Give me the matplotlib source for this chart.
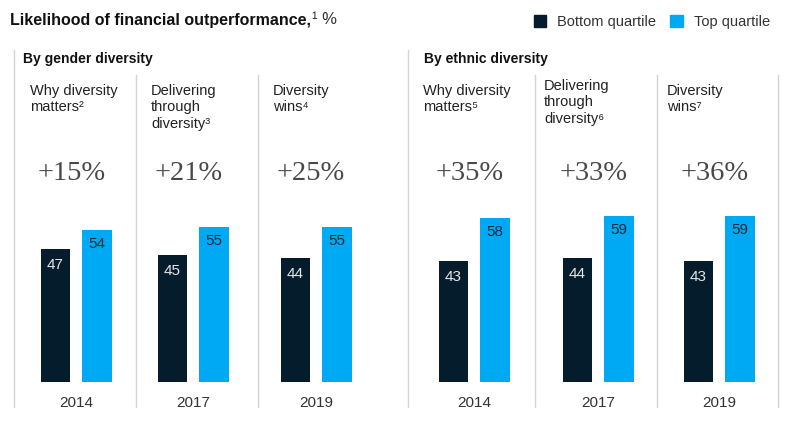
import matplotlib
matplotlib.use('Agg')
import matplotlib.pyplot as plt
from matplotlib.lines import Line2D
from matplotlib.patches import Patch

plt.rcParams['font.family'] = ['Liberation Sans', 'DejaVu Sans']

# data
years = ['2014', '2017', '2019']
gender_reports = ['Why diversity\nmatters²', 'Delivering\nthrough\ndiversity³', 'Diversity\nwins⁴']
ethnic_reports = ['Why diversity\nmatters⁵', 'Delivering\nthrough\ndiversity⁶', 'Diversity\nwins⁷']
gender_bottom = [47, 45, 44]
gender_top = [54, 55, 55]
gender_uplift = [15, 21, 25]
ethnic_bottom = [43, 44, 43]
ethnic_top = [58, 59, 59]
ethnic_uplift = [35, 33, 36]

DARK = '#051C2C'
BLUE = '#00A9F4'
GRID = '#d4d4d4'

W, H = 800, 430
fig = plt.figure(figsize=(W / 100, H / 100), dpi=100)


def fx(px):
    return px / W


def fy(py):
    return 1 - py / H


# layout in pixels
dark_centers = [55.5, 172.5, 295.5, 453.5, 577.5, 698.5]
title_x = [30, 151, 273, 423, 544, 667]
title_y = [84, 84, 84, 84, 79, 84]
unit = 41.5          # px between the two bars of a panel
base_y = 382         # baseline
top_y = 75
px_per_val = 2.82

bottoms = gender_bottom + ethnic_bottom
tops = gender_top + ethnic_top
uplifts = gender_uplift + ethnic_uplift
reports = gender_reports + ethnic_reports
panel_years = years + years

for i in range(6):
    left = dark_centers[i] - unit
    ax = fig.add_axes([fx(left), fy(base_y), 3 * unit / W, (base_y - top_y) / H])
    ax.set_xlim(-1, 2)
    ax.set_ylim(0, (base_y - top_y) / px_per_val)
    ax.axis('off')
    ax.bar([0, 1], [bottoms[i], tops[i]], width=0.7, color=[DARK, BLUE])
    ax.annotate(str(bottoms[i]), xy=(0, bottoms[i]), xytext=(0, -16),
                textcoords='offset pixels', ha='center', va='center',
                fontsize=11, color='#e6e6e6')
    ax.annotate(str(tops[i]), xy=(1, tops[i]), xytext=(0, -14),
                textcoords='offset pixels', ha='center', va='center',
                fontsize=11, color='#1a2a3a')
    ax.annotate(panel_years[i], xy=(0.5, 0), xytext=(0, -21),
                textcoords='offset pixels', ha='center', va='center',
                fontsize=11, color='#333333', annotation_clip=False)
    ax.annotate(f'+{uplifts[i]}%', xy=(0.5, 0), xytext=(-5, 208),
                textcoords='offset pixels', ha='center', va='center',
                fontsize=20.5, color='#484848', family='Liberation Serif',
                annotation_clip=False)
    fig.text(fx(title_x[i]), fy(title_y[i]), reports[i], ha='left', va='top',
             fontsize=10.5, color='#222222', linespacing=1.22)

# separators
for x in [14, 408]:
    fig.add_artist(Line2D([fx(x), fx(x)], [fy(50), fy(407)], color=GRID, lw=1))
for x in [136, 258, 535, 657, 778]:
    fig.add_artist(Line2D([fx(x), fx(x)], [fy(75), fy(407)], color=GRID, lw=1))

fig.text(fx(23), fy(59), 'By gender diversity', fontsize=10, weight='bold',
         va='center', color='#111111')
fig.text(fx(424), fy(59), 'By ethnic diversity', fontsize=10, weight='bold',
         va='center', color='#111111')

t = fig.text(fx(10), fy(20), 'Likelihood of financial outperformance,',
             fontsize=11.5, weight='bold', va='center', color='#111111')
fig.add_artist(plt.Annotation('¹ %', xy=(1, 0.5), xycoords=t, xytext=(1, 0),
                              textcoords='offset points', va='center',
                              fontsize=12, color='#333333'))

handles = [Patch(color=DARK, label='Bottom quartile'),
           Patch(color=BLUE, label='Top quartile')]
fig.legend(handles=handles, loc='upper right', bbox_to_anchor=(fx(783), fy(2)),
           ncol=2, frameon=False, fontsize=10.5, handlelength=0.85, handleheight=0.85,
           handletextpad=0.75, columnspacing=1.0, labelcolor='#333333')

fig.savefig('out.png', dpi=100)
